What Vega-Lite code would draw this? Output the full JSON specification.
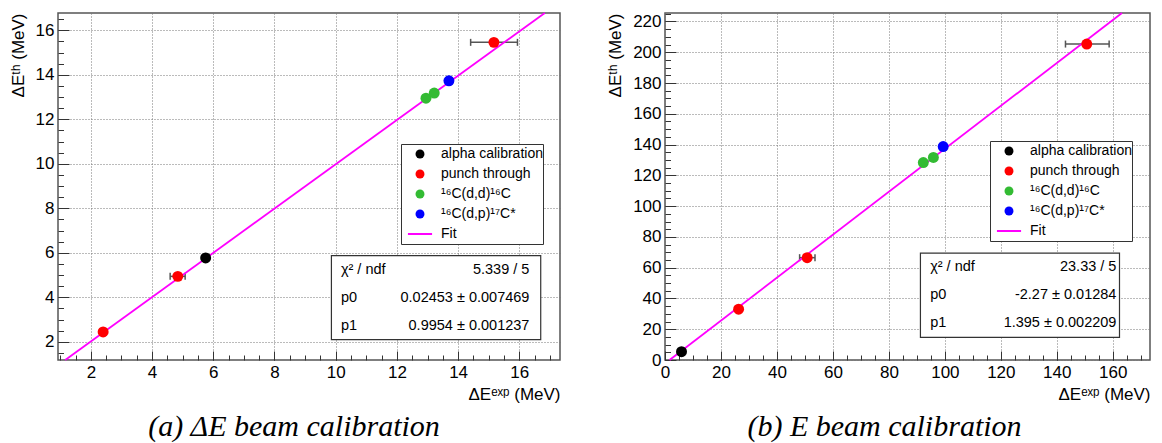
{
  "$schema": "https://vega.github.io/schema/vega-lite/v6.json",
  "background": "white",
  "padding": {"left": 8, "top": 8, "right": 5, "bottom": 2},
  "bounds": "flush",
  "spacing": 105,
  "config": {
    "view": {"stroke": "#555", "strokeWidth": 1.5},
    "font": "Liberation Sans",
    "axis": {
      "labelFont": "Liberation Sans", "labelFontSize": 17, "labelColor": "black",
      "titleFont": "Liberation Sans", "titleFontSize": 17, "titleColor": "black", "titleFontWeight": "normal",
      "domain": false, "tickColor": "#333", "tickWidth": 1,
      "gridColor": "#777", "gridDash": [1, 2], "gridOpacity": 1, "gridWidth": 1,
      "labelOverlap": false, "labelFlush": false
    },
    "title": {"font": "Liberation Serif", "fontStyle": "italic", "fontWeight": "normal", "fontSize": 30, "color": "black", "orient": "bottom", "anchor": "middle"}
  },
  "datasets": {
    "ptsA": [
      {"x": 2.40, "y": 2.44, "series": "punch through"},
      {"x": 4.84, "y": 4.94, "series": "punch through"},
      {"x": 5.75, "y": 5.77, "series": "alpha calibration"},
      {"x": 12.95, "y": 12.95, "series": "¹⁶C(d,d)¹⁶C"},
      {"x": 13.22, "y": 13.18, "series": "¹⁶C(d,d)¹⁶C"},
      {"x": 13.70, "y": 13.73, "series": "¹⁶C(d,p)¹⁷C*"},
      {"x": 15.17, "y": 15.46, "series": "punch through"}
    ],
    "errA": [
      {"y": 4.94, "xlo": 4.59, "xhi": 5.08},
      {"y": 15.46, "xlo": 14.41, "xhi": 15.94}
    ],
    "fitA": [
      {"x": 1.161, "y": 1.18},
      {"x": 16.833, "y": 16.78}
    ],
    "statsA": [
      {"names": "χ² / ndf\np0\np1", "vals": "5.339 / 5\n0.02453 ± 0.007469\n0.9954 ± 0.001237"}
    ],
    "ptsB": [
      {"x": 5.9, "y": 5.4, "series": "alpha calibration"},
      {"x": 26.3, "y": 33.0, "series": "punch through"},
      {"x": 50.8, "y": 66.5, "series": "punch through"},
      {"x": 92.3, "y": 128.3, "series": "¹⁶C(d,d)¹⁶C"},
      {"x": 95.9, "y": 131.6, "series": "¹⁶C(d,d)¹⁶C"},
      {"x": 99.4, "y": 138.7, "series": "¹⁶C(d,p)¹⁷C*"},
      {"x": 150.7, "y": 205.3, "series": "punch through"}
    ],
    "errB": [
      {"y": 66.5, "xlo": 48.1, "xhi": 53.6},
      {"y": 205.3, "xlo": 143.1, "xhi": 158.7}
    ],
    "fitB": [
      {"x": 1.627, "y": 0},
      {"x": 163.28, "y": 225.5}
    ],
    "statsB": [
      {"names": "χ² / ndf\np0\np1", "vals": "23.33 / 5\n-2.27 ± 0.01284\n1.395 ± 0.002209"}
    ]
  },
  "resolve": {
    "scale": {"color": "independent", "shape": "independent"},
    "legend": {"color": "independent", "shape": "independent"}
  },
  "hconcat": [
    {
      "width": 502,
      "height": 347,
      "title": {"text": "(a) ΔE beam calibration", "dx": -15, "offset": 10},
      "resolve": {"axis": {"x": "independent", "y": "independent"}},
      "layer": [
        {
          "data": {"name": "ptsA"},
          "mark": {"type": "point", "opacity": 0},
          "encoding": {
            "x": {"field": "x", "type": "quantitative", "scale": {"domain": [0.925, 17.33], "nice": false, "zero": false},
              "axis": {"orient": "bottom", "values": [1,1.5,2,2.5,3,3.5,4,4.5,5,5.5,6,6.5,7,7.5,8,8.5,9,9.5,10,10.5,11,11.5,12,12.5,13,13.5,14,14.5,15,15.5,16,16.5,17], "tickSize": -5, "labels": false, "grid": false, "title": null}},
            "y": {"field": "y", "type": "quantitative", "scale": {"domain": [1.18, 16.78], "nice": false, "zero": false},
              "axis": {"orient": "left", "values": [1.5,2,2.5,3,3.5,4,4.5,5,5.5,6,6.5,7,7.5,8,8.5,9,9.5,10,10.5,11,11.5,12,12.5,13,13.5,14,14.5,15,15.5,16,16.5], "tickSize": -5.5, "labels": false, "grid": false, "title": null}}
          }
        },
        {
          "data": {"name": "statsA"},
          "mark": {"type": "rect", "fill": "white", "stroke": "#333", "strokeWidth": 1.2},
          "encoding": {
            "x": {"datum": 9.86, "type": "quantitative", "axis": null},
            "x2": {"datum": 16.70},
            "y": {"datum": 5.87, "type": "quantitative", "axis": null},
            "y2": {"datum": 2.10}
          }
        },
        {
          "data": {"name": "statsA"},
          "mark": {"type": "text", "align": "left", "baseline": "middle", "lineBreak": "\n", "lineHeight": 28, "fontSize": 14.5, "font": "Liberation Sans", "color": "black"},
          "encoding": {
            "x": {"datum": 10.17, "type": "quantitative", "axis": null},
            "y": {"datum": 5.22, "type": "quantitative", "axis": null},
            "text": {"field": "names", "type": "nominal"}
          }
        },
        {
          "data": {"name": "statsA"},
          "mark": {"type": "text", "align": "right", "baseline": "middle", "lineBreak": "\n", "lineHeight": 28, "fontSize": 14.5, "font": "Liberation Sans", "color": "black"},
          "encoding": {
            "x": {"datum": 16.33, "type": "quantitative", "axis": null},
            "y": {"datum": 5.22, "type": "quantitative", "axis": null},
            "text": {"field": "vals", "type": "nominal"}
          }
        },
        {
          "data": {"name": "errA"},
          "mark": {"type": "rule", "color": "#555", "strokeWidth": 1.5},
          "encoding": {
            "x": {"field": "xlo", "type": "quantitative", "axis": null},
            "x2": {"field": "xhi"},
            "y": {"field": "y", "type": "quantitative", "axis": null}
          }
        },
        {
          "data": {"name": "errA"},
          "mark": {"type": "tick", "orient": "vertical", "size": 7, "thickness": 1.5, "color": "#555", "opacity": 1},
          "encoding": {
            "x": {"field": "xlo", "type": "quantitative", "axis": null},
            "y": {"field": "y", "type": "quantitative", "axis": null}
          }
        },
        {
          "data": {"name": "errA"},
          "mark": {"type": "tick", "orient": "vertical", "size": 7, "thickness": 1.5, "color": "#555", "opacity": 1},
          "encoding": {
            "x": {"field": "xhi", "type": "quantitative", "axis": null},
            "y": {"field": "y", "type": "quantitative", "axis": null}
          }
        },
        {
          "data": {"name": "fitA"},
          "mark": {"type": "line", "color": "#ff00ff", "strokeWidth": 1.8},
          "encoding": {
            "x": {"field": "x", "type": "quantitative", "axis": null},
            "y": {"field": "y", "type": "quantitative", "axis": null}
          }
        },
        {
          "data": {"name": "ptsA"},
          "mark": {"type": "point", "filled": true, "opacity": 1, "size": 120},
          "encoding": {
            "x": {"field": "x", "type": "quantitative",
              "axis": {"orient": "bottom", "values": [2,4,6,8,10,12,14,16], "tickSize": -9, "labelPadding": 13, "grid": true, "title": "ΔEᵉˣᵖ (MeV)", "titleAnchor": "end", "titlePadding": 6}},
            "y": {"field": "y", "type": "quantitative",
              "axis": {"orient": "left", "values": [2,4,6,8,10,12,14,16], "tickSize": -11, "labelPadding": 15, "grid": true, "title": "ΔEᵗʰ (MeV)", "titleAnchor": "end", "titlePadding": 8}},
            "color": {"field": "series", "type": "nominal",
              "scale": {"domain": ["alpha calibration", "punch through", "¹⁶C(d,d)¹⁶C", "¹⁶C(d,p)¹⁷C*", "Fit"], "range": ["#000000", "#ff0000", "#33bb33", "#0000ff", "#ff00ff"]},
              "legend": {"orient": "none", "legendX": 343, "legendY": 131, "title": null, "fillColor": "white", "strokeColor": "#333", "padding": 0, "symbolOffset": 12, "labelOffset": 14, "labelFont": "Liberation Sans", "labelFontSize": 14, "labelColor": "black", "symbolSize": 80, "clipHeight": 20, "rowPadding": 0, "labelLimit": 300}},
            "shape": {"field": "series", "type": "nominal",
              "scale": {"domain": ["alpha calibration", "punch through", "¹⁶C(d,d)¹⁶C", "¹⁶C(d,p)¹⁷C*", "Fit"], "range": ["circle", "circle", "circle", "circle", "M-2.7,-0.22H2.7V0.22H-2.7Z"]},
              "legend": {"orient": "none", "legendX": 343, "legendY": 131, "title": null, "fillColor": "white", "strokeColor": "#333", "padding": 0, "symbolOffset": 12, "labelOffset": 14, "labelFont": "Liberation Sans", "labelFontSize": 14, "labelColor": "black", "symbolSize": 80, "clipHeight": 20, "rowPadding": 0, "labelLimit": 300}}
          }
        }
      ]
    },
    {
      "width": 485,
      "height": 347,
      "title": {"text": "(b) E beam calibration", "dx": -23, "offset": 10},
      "resolve": {"axis": {"x": "independent", "y": "independent"}},
      "layer": [
        {
          "data": {"name": "ptsB"},
          "mark": {"type": "point", "opacity": 0},
          "encoding": {
            "x": {"field": "x", "type": "quantitative", "scale": {"domain": [0, 173.3], "nice": false, "zero": false},
              "axis": {"orient": "bottom", "values": [0,5,10,15,20,25,30,35,40,45,50,55,60,65,70,75,80,85,90,95,100,105,110,115,120,125,130,135,140,145,150,155,160,165,170], "tickSize": -5, "labels": false, "grid": false, "title": null}},
            "y": {"field": "y", "type": "quantitative", "scale": {"domain": [0, 225.5], "nice": false, "zero": false},
              "axis": {"orient": "left", "values": [0,5,10,15,20,25,30,35,40,45,50,55,60,65,70,75,80,85,90,95,100,105,110,115,120,125,130,135,140,145,150,155,160,165,170,175,180,185,190,195,200,205,210,215,220,225], "tickSize": -5.5, "labels": false, "grid": false, "title": null}}
          }
        },
        {
          "data": {"name": "statsB"},
          "mark": {"type": "rect", "fill": "white", "stroke": "#333", "strokeWidth": 1.2},
          "encoding": {
            "x": {"datum": 91.27, "type": "quantitative", "axis": null},
            "x2": {"datum": 162.4},
            "y": {"datum": 69.4, "type": "quantitative", "axis": null},
            "y2": {"datum": 14.76}
          }
        },
        {
          "data": {"name": "statsB"},
          "mark": {"type": "text", "align": "left", "baseline": "middle", "lineBreak": "\n", "lineHeight": 28, "fontSize": 14.5, "font": "Liberation Sans", "color": "black"},
          "encoding": {
            "x": {"datum": 94.74, "type": "quantitative", "axis": null},
            "y": {"datum": 60.3, "type": "quantitative", "axis": null},
            "text": {"field": "names", "type": "nominal"}
          }
        },
        {
          "data": {"name": "statsB"},
          "mark": {"type": "text", "align": "right", "baseline": "middle", "lineBreak": "\n", "lineHeight": 28, "fontSize": 14.5, "font": "Liberation Sans", "color": "black"},
          "encoding": {
            "x": {"datum": 161.3, "type": "quantitative", "axis": null},
            "y": {"datum": 60.3, "type": "quantitative", "axis": null},
            "text": {"field": "vals", "type": "nominal"}
          }
        },
        {
          "data": {"name": "errB"},
          "mark": {"type": "rule", "color": "#555", "strokeWidth": 1.5},
          "encoding": {
            "x": {"field": "xlo", "type": "quantitative", "axis": null},
            "x2": {"field": "xhi"},
            "y": {"field": "y", "type": "quantitative", "axis": null}
          }
        },
        {
          "data": {"name": "errB"},
          "mark": {"type": "tick", "orient": "vertical", "size": 7, "thickness": 1.5, "color": "#555", "opacity": 1},
          "encoding": {
            "x": {"field": "xlo", "type": "quantitative", "axis": null},
            "y": {"field": "y", "type": "quantitative", "axis": null}
          }
        },
        {
          "data": {"name": "errB"},
          "mark": {"type": "tick", "orient": "vertical", "size": 7, "thickness": 1.5, "color": "#555", "opacity": 1},
          "encoding": {
            "x": {"field": "xhi", "type": "quantitative", "axis": null},
            "y": {"field": "y", "type": "quantitative", "axis": null}
          }
        },
        {
          "data": {"name": "fitB"},
          "mark": {"type": "line", "color": "#ff00ff", "strokeWidth": 1.8},
          "encoding": {
            "x": {"field": "x", "type": "quantitative", "axis": null},
            "y": {"field": "y", "type": "quantitative", "axis": null}
          }
        },
        {
          "data": {"name": "ptsB"},
          "mark": {"type": "point", "filled": true, "opacity": 1, "size": 120},
          "encoding": {
            "x": {"field": "x", "type": "quantitative",
              "axis": {"orient": "bottom", "values": [0,20,40,60,80,100,120,140,160], "tickSize": -9, "labelPadding": 13, "grid": true, "title": "ΔEᵉˣᵖ (MeV)", "titleAnchor": "end", "titlePadding": 6}},
            "y": {"field": "y", "type": "quantitative",
              "axis": {"orient": "left", "values": [0,20,40,60,80,100,120,140,160,180,200,220], "tickSize": -11, "labelPadding": 15, "grid": true, "title": "ΔEᵗʰ (MeV)", "titleAnchor": "end", "titlePadding": 8}},
            "color": {"field": "series", "type": "nominal",
              "scale": {"domain": ["alpha calibration", "punch through", "¹⁶C(d,d)¹⁶C", "¹⁶C(d,p)¹⁷C*", "Fit"], "range": ["#000000", "#ff0000", "#33bb33", "#0000ff", "#ff00ff"]},
              "legend": {"orient": "none", "legendX": 325, "legendY": 128, "title": null, "fillColor": "white", "strokeColor": "#333", "padding": 0, "symbolOffset": 12, "labelOffset": 14, "labelFont": "Liberation Sans", "labelFontSize": 14, "labelColor": "black", "symbolSize": 80, "clipHeight": 20, "rowPadding": 0, "labelLimit": 300}},
            "shape": {"field": "series", "type": "nominal",
              "scale": {"domain": ["alpha calibration", "punch through", "¹⁶C(d,d)¹⁶C", "¹⁶C(d,p)¹⁷C*", "Fit"], "range": ["circle", "circle", "circle", "circle", "M-2.7,-0.22H2.7V0.22H-2.7Z"]},
              "legend": {"orient": "none", "legendX": 325, "legendY": 128, "title": null, "fillColor": "white", "strokeColor": "#333", "padding": 0, "symbolOffset": 12, "labelOffset": 14, "labelFont": "Liberation Sans", "labelFontSize": 14, "labelColor": "black", "symbolSize": 80, "clipHeight": 20, "rowPadding": 0, "labelLimit": 300}}
          }
        }
      ]
    }
  ]
}
